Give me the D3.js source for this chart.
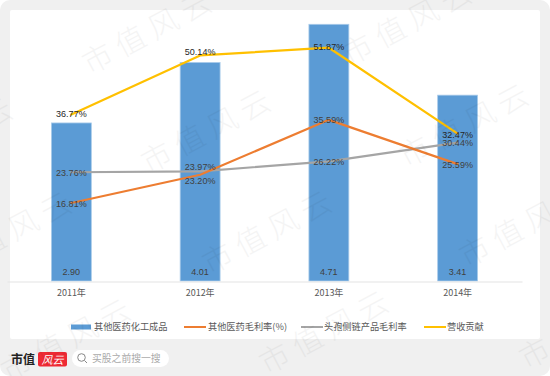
<!DOCTYPE html>
<html>
<head>
<meta charset="utf-8">
<script src="https://cdn.jsdelivr.net/npm/d3@7"></script>
<style>
html, body { margin: 0; padding: 0; background: #fff; }
svg { display: block; }
text { font-family: "Noto Sans CJK SC", "Liberation Sans", sans-serif; }
</style>
</head>
<body>
<svg id="chart"></svg>
<script>
const years = ['2011年', '2012年', '2013年', '2014年'];
const barName = '其他医药化工成品';
const barValues = [2.90, 4.01, 4.71, 3.41];
const orangeName = '其他医药毛利率(%)';
const orangeValues = [16.81, 23.20, 35.59, 25.59];
const grayName = '头孢侧链产品毛利率';
const grayValues = [23.76, 23.97, 26.22, 30.44];
const yellowName = '营收贡献';
const yellowValues = [36.77, 50.14, 51.87, 32.47];

const width = 550, height = 376;
const svg = d3.select('#chart').attr('width', width).attr('height', height);

// frame and white panel
svg.append('rect').attr('width', width).attr('height', height).attr('rx', 10).attr('fill', '#f0f0f0');
svg.append('rect').attr('x', 10).attr('y', 10).attr('width', 530).attr('height', 329).attr('rx', 2).attr('fill', '#fff');

const xscale = d3.scaleBand().domain(years).range([7, 522]).paddingInner(0.69).paddingOuter(0.345);
const yscale = d3.scaleLinear().domain([0, 5]).range([281, 8.5]);
const yscale2 = d3.scaleLinear().domain([0, 60]).range([277.5, 11.7]);

const barColor = '#5b9bd5';
svg.append('g').selectAll('rect')
    .data(barValues)
    .join('rect')
    .attr('x', (d, i) => xscale(years[i]))
    .attr('y', d => yscale(d))
    .attr('width', xscale.bandwidth())
    .attr('height', d => yscale(0) - yscale(d))
    .attr('fill', barColor)
    .attr('stroke', '#a9cbea')
    .attr('stroke-width', 0.8);

// baseline + category labels
const xaxis = d3.axisBottom(xscale).tickSize(0).tickPadding(8);
const xaxis_group = svg.append('g').attr('transform', 'translate(0, 281.5)').call(xaxis);
xaxis_group.select('.domain').attr('stroke', '#e4e4e4').attr('stroke-width', 1.2);
xaxis_group.selectAll('text')
    .style('font-size', '9px').style('fill', '#595959');

const cx = i => xscale(years[i]) + xscale.bandwidth() / 2;
const series = [
    { values: grayValues, color: '#a5a5a5' },
    { values: orangeValues, color: '#ed7d31' },
    { values: yellowValues, color: '#ffc000' },
];
const line = d3.line().x((d, i) => cx(i)).y(d => yscale2(d));
series.forEach(s => {
    svg.append('path')
        .attr('d', line(s.values))
        .attr('fill', 'none')
        .attr('stroke', s.color)
        .attr('stroke-width', 2.2)
        .attr('stroke-linejoin', 'round')
        .attr('stroke-linecap', 'round');
});

// data labels, nudged per point the way they sit in the picture
const labelFont = '"Liberation Sans", sans-serif';
function addLabels(values, fmt, yf, fill) {
    svg.append('g').selectAll('text')
        .data(values)
        .join('text')
        .attr('x', (d, i) => cx(i))
        .attr('y', yf)
        .attr('text-anchor', 'middle')
        .style('font-family', labelFont)
        .style('font-size', '9px')
        .style('fill', fill)
        .text(fmt);
}
const pct = d => d.toFixed(2) + '%';
const orangeNudge = [4, 9.5, 3, 3.5];
const grayNudge = [3.5, -1, 4, 3.5];
const yellowNudge = [2, 0, 2, 4];
addLabels(barValues, d => d.toFixed(2), () => 274.5, '#404040');
addLabels(orangeValues, pct, (d, i) => yscale2(d) + orangeNudge[i], '#404040');
addLabels(grayValues, pct, (d, i) => yscale2(d) + grayNudge[i], '#404040');
addLabels(yellowValues, pct, (d, i) => yscale2(d) + yellowNudge[i], '#262626');

// legend
const legend = svg.append('g');
const legendY = 327;
legend.append('rect').attr('x', 71).attr('y', legendY - 2.5).attr('width', 20).attr('height', 5).attr('fill', barColor);
[[184, series[1].color], [301, series[0].color], [424, series[2].color]].forEach(([x, color]) => {
    legend.append('line').attr('x1', x).attr('x2', x + 22).attr('y1', legendY).attr('y2', legendY)
        .attr('stroke', color).attr('stroke-width', 2);
});
[[94, barName], [208, orangeName], [324, grayName], [447, yellowName]].forEach(([x, name]) => {
    legend.append('text').attr('x', x).attr('y', legendY + 3.2)
        .style('font-size', '9.2px').style('fill', '#595959').text(name);
});

// footer logo and search box
svg.append('text').attr('x', 11).attr('y', 364)
    .style('font-size', '12px').style('font-weight', 700)
    .style('fill', '#222').text('市值');
svg.append('rect').attr('x', 38).attr('y', 352).attr('width', 29).attr('height', 14.5).attr('rx', 2).attr('fill', '#ee2a34');
svg.append('text').attr('x', 52.5).attr('y', 363.5).attr('text-anchor', 'middle')
    .style('font-size', '11px').style('font-style', 'italic').style('fill', '#fff').text('风云');
svg.append('rect').attr('x', 72).attr('y', 350).attr('width', 97).attr('height', 17).attr('rx', 8.5).attr('fill', '#fff');
svg.append('circle').attr('cx', 81.5).attr('cy', 357.5).attr('r', 3.8).attr('fill', 'none').attr('stroke', '#888').attr('stroke-width', 1);
svg.append('line').attr('x1', 84.5).attr('y1', 360.5).attr('x2', 87).attr('y2', 363).attr('stroke', '#888').attr('stroke-width', 1);
svg.append('text').attr('x', 92).attr('y', 362)
    .style('font-size', '9.8px').style('fill', '#aaa').text('买股之前搜一搜');

// watermark
const marks = [[150, 31], [410, 22], [-49, 138], [209, 130], [467, 124], [10, 232], [270, 231], [527, 224], [69, 339], [327, 331], [587, 326]];
svg.append('g').selectAll('text')
    .data(marks)
    .join('text')
    .attr('transform', d => `translate(${d[0]}, ${d[1]}) rotate(-28)`)
    .attr('text-anchor', 'middle')
    .attr('dy', '0.35em')
    .style('font-size', '30px')
    .style('letter-spacing', '7px')
    .style('font-weight', 300)
    .style('fill', '#000')
    .style('opacity', 0.04)
    .text('市值风云');
</script>
</body>
</html>
